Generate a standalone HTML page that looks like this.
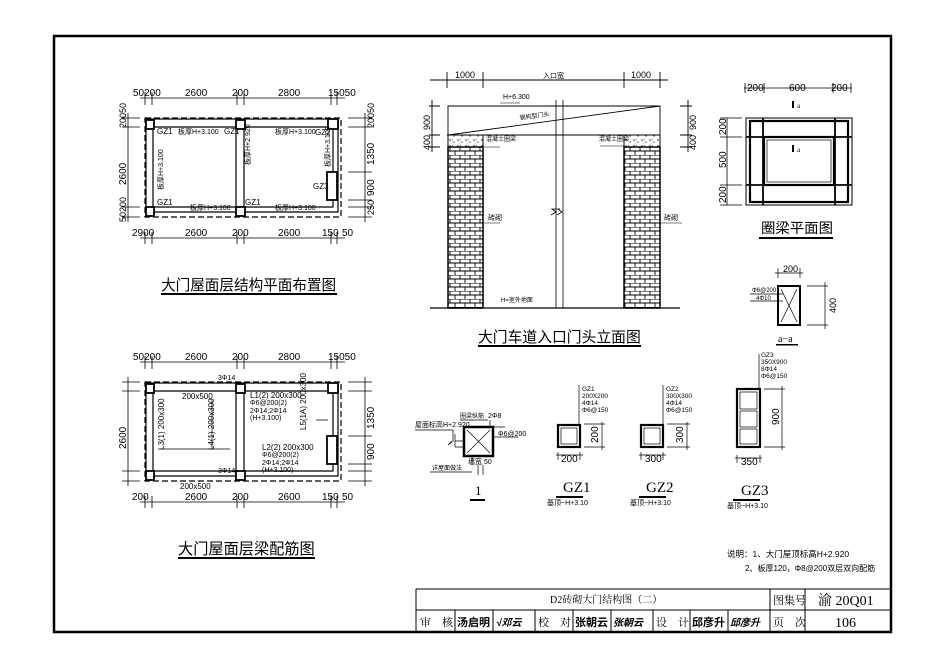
<!DOCTYPE html>
<html><head><meta charset="utf-8"><style>
html,body{margin:0;padding:0;background:#fff}
svg{display:block}
text{font-family:"Liberation Sans","Noto Sans CJK SC",sans-serif;fill:#000}
.s{font-family:"Liberation Serif","Noto Serif CJK SC",serif}
</style></head><body>
<svg width="945" height="665" viewBox="0 0 945 665" xmlns="http://www.w3.org/2000/svg">
<defs>
<pattern id="brick" x="448" y="147" width="10" height="8" patternUnits="userSpaceOnUse">
<rect width="10" height="8" fill="#fff"/>
<path d="M0 0H10M0 4H10M2 0V4M7 4V8" stroke="#000" stroke-width="0.9"/>
</pattern>
<pattern id="conc" width="8" height="6" patternUnits="userSpaceOnUse">
<rect width="8" height="6" fill="#fff"/><circle cx="2" cy="2" r="0.7"/><circle cx="6" cy="4" r="0.6"/><path d="M4 1l1 1" stroke="#000" stroke-width="0.5"/>
</pattern>
<g id="plan" stroke="#000" fill="none">
<rect x="145" y="118" width="196" height="99" stroke-dasharray="6,3" stroke-width="1.2"/>
<path d="M146 119H338V212H146Z M153 127H333V207H153Z" stroke-width="1.2"/>
<path d="M236 127V207M244 127V207" stroke-width="1.2"/>
<rect x="146" y="120" width="8" height="9" fill="#fff" stroke-width="1.8"/>
<rect x="236" y="120" width="9" height="9" fill="#fff" stroke-width="1.8"/>
<rect x="146" y="207" width="8" height="9" fill="#fff" stroke-width="1.8"/>
<rect x="236" y="207" width="9" height="9" fill="#fff" stroke-width="1.8"/>
<rect x="328" y="119" width="10" height="10" fill="#fff" stroke-width="1.8"/>
<rect x="327" y="172" width="10" height="28" fill="#fff" stroke-width="1.8"/>
<path d="M140 98H345M145 92V105M152 92V105M237 92V105M244 92V105M331 92V105M337 92V105" stroke-width="0.8"/>
<path d="M140 238H345M145 232V244M152 232V244M237 232V244M244 232V244M331 232V244M337 232V244" stroke-width="0.8"/>
<path d="M128 113V222M122 118H140M122 127H140M122 207H140M122 217H140" stroke-width="0.8"/>
<path d="M365 113V222M348 118H372M348 127H372M348 172H372M348 200H372M348 207H372M348 217H372" stroke-width="0.8"/>
</g>
</defs>
<rect x="54" y="36" width="837" height="596" fill="none" stroke="#000" stroke-width="2.5"/>

<!-- plan 1 -->
<use href="#plan"/>
<g font-size="10">
<text x="133" y="96">50200</text><text x="185" y="96">2600</text><text x="232" y="96">200</text><text x="278" y="96">2800</text><text x="328" y="96">15050</text>
<text x="132" y="236">2900</text><text x="185" y="236">2600</text><text x="232" y="236">200</text><text x="278" y="236">2600</text><text x="322" y="236">150</text><text x="342" y="236">50</text>
<text x="157" y="134" font-size="8">GZ1</text><text x="224" y="134" font-size="8">GZ1</text><text x="315" y="135" font-size="8">GZ2</text>
<text x="157" y="205" font-size="8">GZ1</text><text x="245" y="205" font-size="8">GZ1</text><text x="313" y="189" font-size="8">GZ3</text>
<text x="178" y="134" font-size="7">板厚H+3.100</text><text x="275" y="134" font-size="7">板厚H+3.100</text>
<text x="190" y="210" font-size="7">板厚H+3.100</text><text x="275" y="210" font-size="7">板厚H+3.100</text>
<text transform="translate(163,190) rotate(-90)" font-size="7">板厚H+3.100</text>
<text transform="translate(250,165) rotate(-90)" font-size="7">板厚H+2.920</text>
<text transform="translate(330,167) rotate(-90)" font-size="7">板厚H+3.100</text>
<text transform="translate(126,185) rotate(-90)">2600</text>
<text transform="translate(126,128) rotate(-90)" font-size="9">20050</text>
<text transform="translate(126,222) rotate(-90)" font-size="9">50200</text>
<text transform="translate(374,165) rotate(-90)">1350</text>
<text transform="translate(374,196) rotate(-90)">900</text>
<text transform="translate(374,128) rotate(-90)" font-size="9">20050</text>
<text transform="translate(374,215) rotate(-90)" font-size="9">250</text>
</g>
<text x="161" y="290" font-size="14.6">大门屋面层结构平面布置图</text>
<rect x="161" y="293" width="176" height="2" fill="#000"/>

<!-- plan 2 -->
<g transform="translate(0,264)"><use href="#plan"/></g>
<g font-size="10">
<text x="133" y="360">50200</text><text x="185" y="360">2600</text><text x="232" y="360">200</text><text x="278" y="360">2800</text><text x="328" y="360">15050</text>
<text x="132" y="500">200</text><text x="185" y="500">2600</text><text x="232" y="500">200</text><text x="278" y="500">2600</text><text x="322" y="500">150</text><text x="342" y="500">50</text>
<text x="218" y="380" font-size="7">3Φ14</text><text x="218" y="473" font-size="7">3Φ14</text>
<text x="182" y="399" font-size="8">200x500</text><text x="180" y="489" font-size="8">200x500</text>
<text x="250" y="398" font-size="8">L1(2) 200x300</text><text x="250" y="405" font-size="7">Φ6@200(2)</text><text x="250" y="413" font-size="7">2Φ14;2Φ14</text><text x="250" y="420" font-size="7">(H+3.100)</text>
<text x="262" y="450" font-size="8">L2(2) 200x300</text><text x="262" y="457" font-size="7">Φ6@200(2)</text><text x="262" y="465" font-size="7">2Φ14;2Φ14</text><text x="262" y="472" font-size="7">(H+3.100)</text>
<text transform="translate(164,450) rotate(-90)" font-size="8">L3(1) 200x300</text>
<text transform="translate(214,450) rotate(-90)" font-size="8">L4(1) 200x300</text>
<text transform="translate(306,430) rotate(-90)" font-size="8">L5(1A) 200x300</text>
<text transform="translate(126,449) rotate(-90)">2600</text>
<text transform="translate(374,429) rotate(-90)">1350</text>
<text transform="translate(374,460) rotate(-90)">900</text>
</g>
<path d="M160 449H230M212 449V400M316 420H328" stroke="#000" stroke-width="0.7" fill="none"/>
<text x="178" y="554" font-size="15.2">大门屋面层梁配筋图</text>
<rect x="178" y="557" width="137" height="2" fill="#000"/>

<!-- elevation -->
<g stroke="#000" fill="none" stroke-width="0.9">
<path d="M430 80H668M447 72V88M483 72V88M624 72V88M660 72V88"/>
<path d="M448 106H660V135H448ZM448 135L660 106M447 135H660M429 106H440M429 135H440M429 147H440M432 100V152M680 106H692M680 135H692M680 147H692M688 100V152"/>
<path d="M556 100V308M563 100V308M551 215l5 -3l-4 -3l8 0M557 215l5 -3l-4 -3" stroke-width="0.8"/>
<path d="M430 308H680" stroke-width="1.2"/>
</g>
<rect x="448" y="135" width="35" height="12" fill="url(#conc)" stroke="#000"/>
<rect x="624" y="135" width="36" height="12" fill="url(#conc)" stroke="#000"/>
<rect x="448" y="147" width="35" height="161" fill="url(#brick)" stroke="#000" stroke-width="1.5"/>
<rect x="624" y="147" width="36" height="161" fill="url(#brick)" stroke="#000" stroke-width="1.5"/>
<g font-size="9">
<text x="455" y="78">1000</text><text x="543" y="78" font-size="7">入口宽</text><text x="631" y="78">1000</text>
<text x="503" y="99" font-size="7">H+6.300</text><text x="520" y="120" font-size="6" transform="rotate(-8 520 120)">钢构型门头</text>
<text x="486" y="141" font-size="6">混凝土圈梁</text><text x="599" y="141" font-size="6">混凝土圈梁</text>
<text x="488" y="220" font-size="7">砖砌</text><text x="664" y="220" font-size="7">砖砌</text>
<text x="501" y="302" font-size="6">H=室外地面</text>
<text transform="translate(430,130) rotate(-90)">900</text><text transform="translate(430,150) rotate(-90)">400</text>
<text transform="translate(696,130) rotate(-90)">900</text><text transform="translate(696,150) rotate(-90)">400</text>
</g>
<path d="M483 147H500M660 223H682M483 223H500M500 103H520M600 146H624" stroke="#000" stroke-width="0.6"/>
<text x="478" y="342" font-size="14.8">大门车道入口门头立面图</text>
<rect x="478" y="345" width="163" height="2" fill="#000"/>

<!-- ring plan -->
<g stroke="#000" fill="none">
<rect x="746" y="118" width="106" height="87" stroke-width="1"/>
<rect x="750" y="121" width="98" height="81" stroke-width="2.2"/>
<rect x="764" y="137" width="70" height="48" stroke-width="2.2"/>
<rect x="767" y="140" width="64" height="42" stroke-width="0.7"/>
<path d="M763 118V205M835 118V205M746 137H852M746 185H852" stroke-width="1.8"/>
<path d="M744 88H852M745 83V93M764 83V93M833 83V93M851 83V93M727 118V205M720 118H742M720 137H742M720 185H742M720 205H742" stroke-width="0.8"/>
</g>
<rect x="792" y="101" width="2" height="7"/><rect x="792" y="145" width="2" height="7"/>
<g font-size="10">
<text x="747" y="91">200</text><text x="789" y="91">600</text><text x="831" y="91">200</text>
<text x="797" y="108" font-size="7" class="s">a</text><text x="797" y="152" font-size="7" class="s">a</text>
<text transform="translate(726,135) rotate(-90)">200</text><text transform="translate(726,168) rotate(-90)">500</text><text transform="translate(726,203) rotate(-90)">200</text>
</g>
<text x="761" y="233" font-size="14.4">圈梁平面图</text>
<rect x="759" y="237" width="74" height="2" fill="#000"/>
<g stroke="#000" fill="none">
<rect x="778" y="286" width="22" height="39" stroke-width="2"/>
<path d="M781 289L797 322M797 289L781 322M775 273H803M778 268V278M800 268V278M807 286H828M807 325H828M825 282V329M750 294H783M750 301H783" stroke-width="0.7"/>
</g>
<text x="783" y="272" font-size="9">200</text>
<text x="752" y="292" font-size="6">Φ6@200</text><text x="756" y="300" font-size="6">4Φ10</text>
<text transform="translate(836,313) rotate(-90)" font-size="9">400</text>
<text x="778" y="342" font-size="10" class="s">a−a</text>
<rect x="776" y="344" width="22" height="1.5"/>

<!-- section 1 -->
<g stroke="#000" fill="none">
<rect x="464" y="427" width="29" height="29" stroke-width="2.5"/>
<path d="M467 430L490 453M490 430L467 453M455 441H464M452 441l-4 4l4 -3M455 434V447M455 447H464M415 430H453V442M493 437H518M490 420V427H505M488 420H460M472 465V456M430 472H472M478 465V475M483 465V475" stroke-width="0.7"/>
</g>
<text x="415" y="427" font-size="7">屋面标高H+2.920</text><text x="488" y="418" font-size="7">2Φ8</text><text x="460" y="418" font-size="6">圈梁纵筋</text>
<text x="498" y="436" font-size="7">Φ6@200</text><text x="432" y="470" font-size="6">详屋面做法</text>
<text x="468" y="464" font-size="7">墙宽 50</text>
<text x="475" y="495" font-size="13" class="s">1</text><rect x="470" y="499" width="15" height="2"/>

<!-- GZ sections -->
<g stroke="#000" fill="none">
<rect x="558" y="425" width="22" height="22" stroke-width="2.2"/><rect x="561" y="428" width="16" height="16" stroke-width="0.7"/>
<rect x="641" y="425" width="22" height="22" stroke-width="2.2"/><rect x="644" y="428" width="16" height="16" stroke-width="0.7"/>
<rect x="737" y="389" width="23" height="58" stroke-width="2.2"/><rect x="740" y="392" width="17" height="17" stroke-width="0.7"/><rect x="740" y="411" width="17" height="16" stroke-width="0.7"/><rect x="740" y="429" width="17" height="15" stroke-width="0.7"/>
<path d="M579 425V385M584 424H605M584 447H605M602 422V450M556 455H583M558 452V460M580 452V460" stroke-width="0.7"/>
<path d="M663 425V385M667 424H690M667 447H690M687 422V450M639 455H666M641 452V460M663 452V460" stroke-width="0.7"/>
<path d="M759 389V354M764 389H785M764 447H785M782 386V450M735 458H762M737 455V463M760 455V463" stroke-width="0.7"/>
</g>
<g font-size="6.5">
<text x="582" y="391">GZ1</text><text x="582" y="398">200X200</text><text x="582" y="405">4Φ14</text><text x="582" y="412">Φ6@150</text>
<text x="666" y="391">GZ2</text><text x="666" y="398">300X300</text><text x="666" y="405">4Φ14</text><text x="666" y="412">Φ6@150</text>
<text x="761" y="357">GZ3</text><text x="761" y="364">350X900</text><text x="761" y="371">8Φ14</text><text x="761" y="378">Φ6@150</text>
</g>
<g font-size="10">
<text x="561" y="462">200</text><text x="645" y="462">300</text><text x="741" y="465">350</text>
<text transform="translate(598,443) rotate(-90)">200</text><text transform="translate(683,443) rotate(-90)">300</text><text transform="translate(779,425) rotate(-90)">900</text>
</g>
<g font-size="15"><text x="563" y="492" class="s" fill="#555">GZ1</text><text x="646" y="492" class="s" fill="#555">GZ2</text><text x="741" y="495" class="s" fill="#555">GZ3</text></g>
<rect x="556" y="496" width="27" height="2"/><rect x="639" y="496" width="27" height="2"/><rect x="733" y="499" width="27" height="2"/>
<g font-size="7"><text x="547" y="505">基顶~H+3.10</text><text x="630" y="505">基顶~H+3.10</text><text x="727" y="508">基顶~H+3.10</text></g>

<!-- notes -->
<text x="727" y="557" font-size="8.5">说明：1、大门屋顶标高H+2.920</text>
<text x="745" y="571" font-size="8">2、板厚120，Φ8@200双层双向配筋</text>

<!-- title block -->
<g stroke="#000" fill="none" stroke-width="1">
<path d="M416 589H891M416 610H891M416 589V632M770 589V632M805 589V632M455 610V632M493 610V632M535 610V632M573 610V632M611 610V632M653 610V632M690 610V632M728 610V632" />
</g>
<g font-size="10">
<text x="550" y="603" class="s" fill="#444">D2砖砌大门结构图（二）</text>
<text x="773" y="604" class="s" fill="#444" font-size="11">图集号</text>
<text x="818" y="605" class="s" fill="#333" font-size="14">渝 20Q01</text>
<text x="420" y="626" class="s" fill="#444" font-size="11">审　核</text>
<text x="538" y="626" class="s" fill="#444" font-size="11">校　对</text>
<text x="656" y="626" class="s" fill="#444" font-size="11">设　计</text>
<text x="773" y="626" class="s" fill="#444" font-size="11">页　次</text>
<text x="835" y="627" class="s" fill="#333" font-size="14">106</text>
</g>
<g font-size="11" font-weight="bold">
<text x="457" y="626">汤启明</text><text x="575" y="626">张朝云</text><text x="692" y="626">邱彦升</text>
<text x="496" y="626" font-style="italic" font-size="10">√邓云</text><text x="613" y="626" font-style="italic" font-size="10">张朝云</text><text x="730" y="626" font-style="italic" font-size="10">邱彦升</text>
</g>
</svg>
</body></html>
